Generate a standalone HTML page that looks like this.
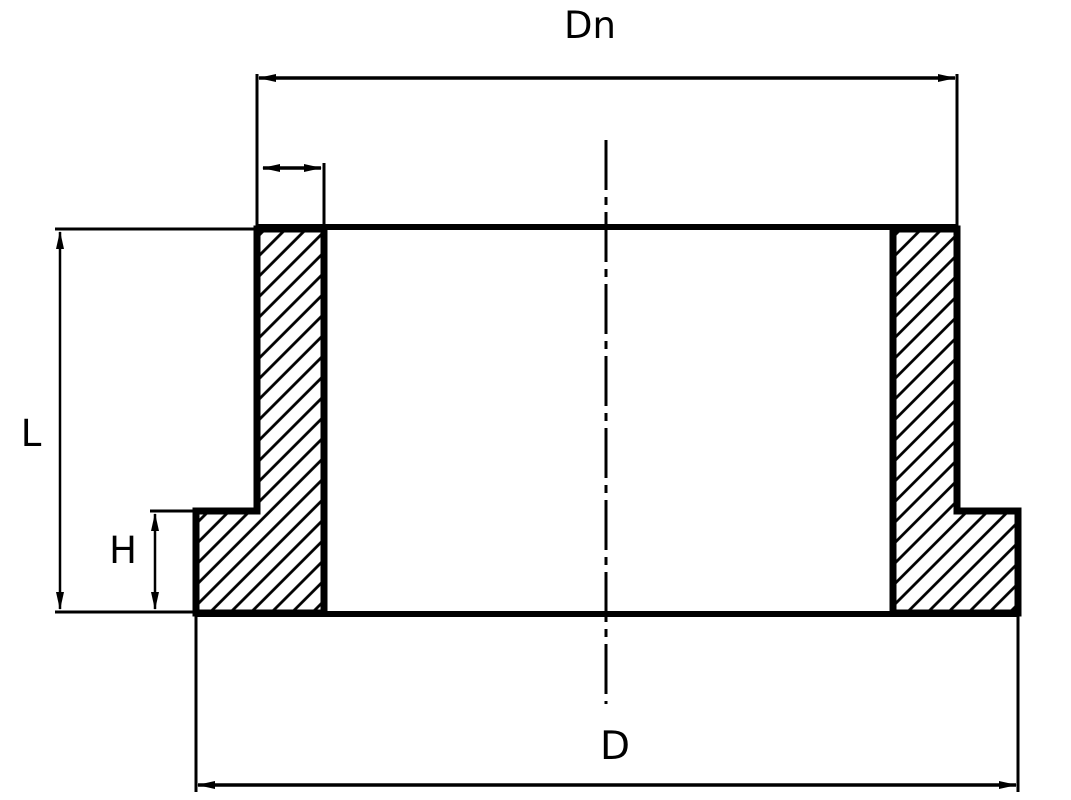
<!DOCTYPE html>
<html><head><style>body{margin:0;background:#fff}svg{display:block}</style></head>
<body>
<svg width="1071" height="800" viewBox="0 0 1071 800" xmlns="http://www.w3.org/2000/svg">
<defs>
<pattern id="h" patternUnits="userSpaceOnUse" width="14.5" height="14.5" patternTransform="rotate(45)">
<line x1="1.5" y1="0" x2="1.5" y2="14.5" stroke="#000" stroke-width="2.8"/>
</pattern>
<marker id="a" markerWidth="18" markerHeight="10" refX="17" refY="5" orient="auto" markerUnits="userSpaceOnUse">
<path d="M0,1 L18,5 L0,9 Z" fill="#000"/></marker>
<marker id="b" markerWidth="18" markerHeight="10" refX="1" refY="5" orient="auto" markerUnits="userSpaceOnUse">
<path d="M18,1 L0,5 L18,9 Z" fill="#000"/></marker>
</defs>
<path d="M257,229 L324,229 L324,613 L196,613 L196,511 L257,511 Z" fill="url(#h)" stroke="#000" stroke-width="7"/>
<path d="M893,229 L957,229 L957,511 L1018,511 L1018,613 L893,613 Z" fill="url(#h)" stroke="#000" stroke-width="7"/>
<line x1="257" y1="227" x2="957" y2="227" stroke="#000" stroke-width="6"/>
<line x1="196" y1="614" x2="1018" y2="614" stroke="#000" stroke-width="6"/>
<line x1="606" y1="140" x2="606" y2="704" stroke="#000" stroke-width="3" stroke-dasharray="50,7,8,7"/>
<line x1="257" y1="74" x2="257" y2="228" stroke="#000" stroke-width="3"/>
<line x1="957" y1="74" x2="957" y2="228" stroke="#000" stroke-width="3"/>
<line x1="259" y1="78" x2="955" y2="78" stroke="#000" stroke-width="3.5" marker-start="url(#b)" marker-end="url(#a)"/>
<text x="590" y="38" font-family="DejaVu Sans, sans-serif" font-size="37" text-anchor="middle">Dn</text>
<line x1="324" y1="163" x2="324" y2="228" stroke="#000" stroke-width="3"/>
<line x1="263" y1="168" x2="321" y2="168" stroke="#000" stroke-width="3.5" marker-start="url(#b)" marker-end="url(#a)"/>
<line x1="55" y1="229" x2="257" y2="229" stroke="#000" stroke-width="3"/>
<line x1="55" y1="612" x2="196" y2="612" stroke="#000" stroke-width="3"/>
<line x1="60" y1="232" x2="60" y2="609" stroke="#000" stroke-width="2.5" marker-start="url(#b)" marker-end="url(#a)"/>
<text x="31" y="446" font-family="DejaVu Sans, sans-serif" font-size="37" text-anchor="middle">L</text>
<line x1="150" y1="511" x2="196" y2="511" stroke="#000" stroke-width="3"/>
<line x1="155" y1="514" x2="155" y2="609" stroke="#000" stroke-width="2.5" marker-start="url(#b)" marker-end="url(#a)"/>
<text x="123" y="563" font-family="DejaVu Sans, sans-serif" font-size="37" text-anchor="middle">H</text>
<line x1="196" y1="613" x2="196" y2="792" stroke="#000" stroke-width="3"/>
<line x1="1018" y1="613" x2="1018" y2="792" stroke="#000" stroke-width="3"/>
<line x1="198" y1="785" x2="1016" y2="785" stroke="#000" stroke-width="3.5" marker-start="url(#b)" marker-end="url(#a)"/>
<text x="615" y="759" font-family="DejaVu Sans, sans-serif" font-size="39" text-anchor="middle">D</text>
</svg>
</body></html>
